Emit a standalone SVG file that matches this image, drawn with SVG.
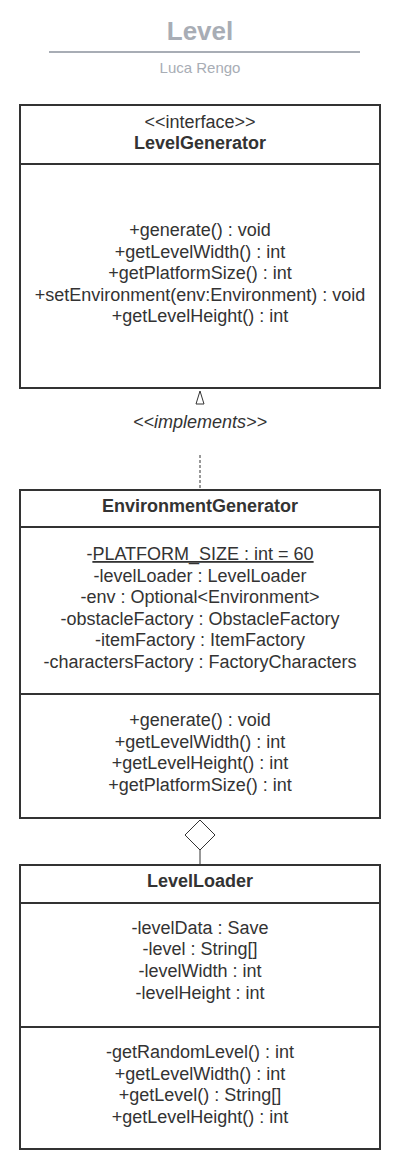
<svg xmlns="http://www.w3.org/2000/svg" width="400" height="1166" viewBox="0 0 400 1166">
<style>
.box{fill:#fff;stroke:#333;stroke-width:2}
.div{stroke:#333;stroke-width:2}
text{font-family:"Liberation Sans",Arial,sans-serif;font-size:18px;fill:#333;text-anchor:middle}
.b{font-weight:bold}
.title{font-size:26px;font-weight:bold;fill:#a8adb5}
.sub{font-size:15px;fill:#a8adb5}
.conn{stroke:#333;stroke-width:1;fill:none}
</style>
<rect width="400" height="1166" fill="#fff"/>
<g id="title">
<text x="200" y="40" class="title">Level</text>
<line x1="49" y1="52" x2="360" y2="52" stroke="#a8adb5" stroke-width="2"/>
<text x="200" y="73" class="sub">Luca Rengo</text>
</g>
<g id="connectors">
<line class="conn" x1="200" y1="455" x2="200" y2="490" stroke-dasharray="3,2"/>
<polygon points="200,391 196,404 204,404" fill="#fff" stroke="#333" stroke-width="1"/>
<text x="200" y="428" style="font-style:italic">&lt;&lt;implements&gt;&gt;</text>
<line class="conn" x1="200" y1="850" x2="200" y2="865"/>
<polygon points="200,820 215,835 200,850 185,835" fill="#fff" stroke="#333" stroke-width="1"/>
</g>
<g id="LevelGenerator">
<rect class="box" x="20" y="105" width="360" height="283"/>
<line class="div" x1="20" y1="164" x2="380" y2="164"/>
<text x="200" y="128">&lt;&lt;interface&gt;&gt;</text>
<text x="200" y="149" class="b">LevelGenerator</text>
<text x="200" y="236">+generate() : void</text>
<text x="200" y="258">+getLevelWidth() : int</text>
<text x="200" y="279">+getPlatformSize() : int</text>
<text x="200" y="301">+setEnvironment(env:Environment) : void</text>
<text x="200" y="322">+getLevelHeight() : int</text>
</g>
<g id="EnvironmentGenerator">
<rect class="box" x="20" y="490" width="360" height="328"/>
<line class="div" x1="20" y1="527" x2="380" y2="527"/>
<line class="div" x1="20" y1="694" x2="380" y2="694"/>
<text x="200" y="512" class="b">EnvironmentGenerator</text>
<text x="200" y="560">-<tspan text-decoration="underline">PLATFORM_SIZE : int = 60</tspan></text>
<text x="200" y="582">-levelLoader : LevelLoader</text>
<text x="200" y="603">-env : Optional&lt;Environment&gt;</text>
<text x="200" y="625">-obstacleFactory : ObstacleFactory</text>
<text x="200" y="646">-itemFactory : ItemFactory</text>
<text x="200" y="668">-charactersFactory : FactoryCharacters</text>
<text x="200" y="726">+generate() : void</text>
<text x="200" y="748">+getLevelWidth() : int</text>
<text x="200" y="769">+getLevelHeight() : int</text>
<text x="200" y="791">+getPlatformSize() : int</text>
</g>
<g id="LevelLoader">
<rect class="box" x="20" y="865" width="360" height="284"/>
<line class="div" x1="20" y1="903" x2="380" y2="903"/>
<line class="div" x1="20" y1="1027" x2="380" y2="1027"/>
<text x="200" y="887" class="b">LevelLoader</text>
<text x="200" y="934">-levelData : Save</text>
<text x="200" y="955">-level : String[]</text>
<text x="200" y="977">-levelWidth : int</text>
<text x="200" y="999">-levelHeight : int</text>
<text x="200" y="1058">-getRandomLevel() : int</text>
<text x="200" y="1080">+getLevelWidth() : int</text>
<text x="200" y="1101">+getLevel() : String[]</text>
<text x="200" y="1123">+getLevelHeight() : int</text>
</g>
</svg>
